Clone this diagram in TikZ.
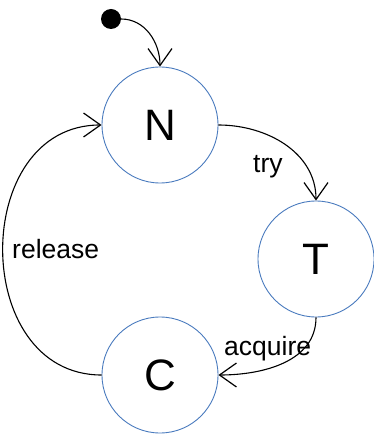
\documentclass[tikz,border=0pt]{standalone}
\usepackage{fontspec}
\setmainfont{Liberation Sans}
\usetikzlibrary{arrows.meta}
\definecolor{stateblue}{HTML}{4A7BBE}
\tikzset{
  state/.style={circle, draw=stateblue, line width=0.9pt, minimum size=116pt,
    inner sep=0pt, font=\fontsize{44}{44}\selectfont},
  trans/.style={draw=black, line width=1.1pt,
    -{Straight Barb[length=17pt,width=24pt,line width=1.2pt]}},
  lbl/.style={font=\fontsize{26.5}{26.5}\selectfont, inner sep=0pt, anchor=base west}
}
\begin{document}
\begin{tikzpicture}[x=1pt,y=-1pt]
  \useasboundingbox (0,0) rectangle (373,435);
  % states
  \node[state] (N) at (160,125) {N};
  \node[state] (T) at (316,259) {T};
  \node[state] (C) at (160,375) {C};
  % initial marker
  \node[circle, fill=black, minimum size=20pt, inner sep=0pt] (init) at (111,19) {};
  % transitions
  \draw[trans] (init.east) to[out=0,in=90] (N.north);
  \draw[trans] (N.east) to[out=0,in=90] (T.north);
  \draw[trans] (T.south) to[out=-90,in=0] (C.east);
  \draw[trans] (C.west) to[out=180,in=180,looseness=1.35] (N.west);
  % labels
  \node[lbl] (ltry) at (253,173) {try};
  \node[lbl] (lacq) at (224,355) {acquire};
  \node[lbl] (lrel) at (12,258) {release};
\end{tikzpicture}
\end{document}
